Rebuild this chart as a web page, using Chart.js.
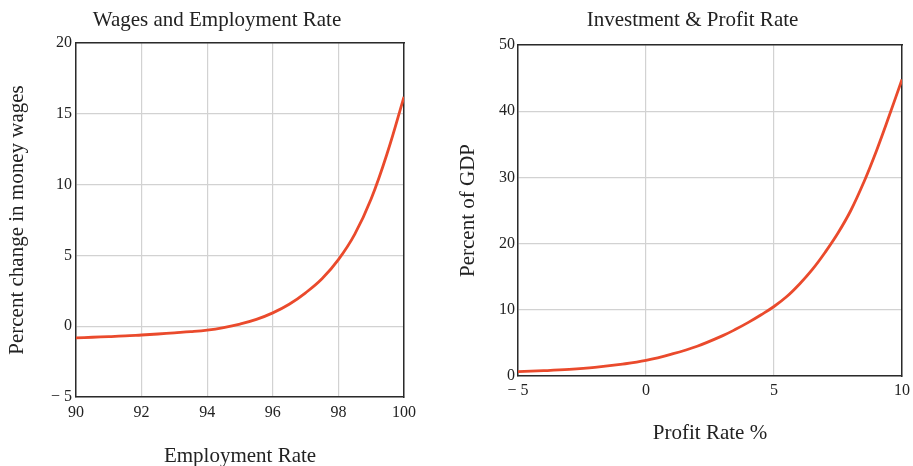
<!DOCTYPE html>
<html>
<head>
<meta charset="utf-8">
<script src="https://cdn.jsdelivr.net/npm/chart.js@4/dist/chart.umd.min.js"></script>
<style>
  html, body { margin: 0; padding: 0; background: #fff; overflow: hidden; }
  body { width: 913px; height: 466px; position: relative; }
  .box { position: absolute; top: 0; height: 466px; }
  #left { left: 0; width: 434px; }
  #right { left: 440px; width: 505px; }
</style>
</head>
<body>
<div class="box" id="left"><canvas id="wages"></canvas></div>
<div class="box" id="right"><canvas id="invest"></canvas></div>
<script>
// Données
const employment = [90, 90.5, 91, 91.5, 92, 92.5, 93, 93.5, 94, 94.5, 95, 95.5, 96, 96.5, 97, 97.5, 98, 98.5, 99, 99.5, 100];
const wageChange = [-0.82, -0.78, -0.74, -0.69, -0.62, -0.55, -0.47, -0.39, -0.28, -0.1, 0.15, 0.48, 0.94, 1.55, 2.36, 3.35, 4.7, 6.5, 9.0, 12.3, 16.2];

const profitRate = [-5, -4, -3, -2, -1, 0, 1, 2, 3, 3.5, 4, 4.5, 5, 5.5, 6, 6.5, 7, 7.5, 8, 8.5, 9, 9.5, 10];
const investment = [0.65, 0.8, 1.0, 1.3, 1.75, 2.35, 3.3, 4.5, 6.1, 7.05, 8.1, 9.25, 10.5, 12.0, 13.9, 16.1, 18.7, 21.6, 25.0, 29.2, 34.0, 39.3, 44.8];

const wagesXTicks = [90, 92, 94, 96, 98, 100];
const wagesYTicks = [-5, 0, 5, 10, 15, 20];
const investXTicks = [-5, 0, 5, 10];
const investYTicks = [0, 10, 20, 30, 40, 50];

const LINE = "#ea4a2c";
const GRID = "#d2d2d2";
const FRAME = "#2a2a2a";
const TEXT = "#222";
const SERIF = "'Liberation Serif', 'Times New Roman', serif";

Chart.defaults.font.family = SERIF;
Chart.defaults.color = TEXT;

function fmt(v) {
  return v < 0 ? "\u2212 " + Math.abs(v) : String(v);
}

function points(xs, ys) {
  return xs.map((x, i) => ({ x, y: ys[i] }));
}

// axe fantôme pour fermer le cadre (haut / droite)
function frameAxis(position, size) {
  const horiz = position === "top";
  return {
    type: "linear",
    position,
    min: 0,
    max: 1,
    ticks: { display: false },
    grid: { display: false, drawTicks: false },
    border: { display: true, color: FRAME, width: 1.5 },
    afterFit(s) { if (horiz) s.height = size; else s.width = size; }
  };
}

function makeChart(ctx, cfg) {
  return new Chart(ctx, {
    type: "line",
    data: {
      datasets: [{
        data: points(cfg.xs, cfg.ys),
        borderColor: LINE,
        borderWidth: 2.8,
        pointRadius: 0,
        fill: false,
        tension: 0.4
      }]
    },
    options: {
      responsive: true,
      maintainAspectRatio: false,
      animation: false,
      layout: { padding: 0 },
      plugins: {
        legend: { display: false },
        tooltip: { enabled: false },
        title: {
          display: true,
          text: cfg.title,
          color: TEXT,
          font: { size: 21, weight: "normal", family: SERIF },
          padding: { top: cfg.titleTop, bottom: cfg.titleBottom }
        }
      },
      scales: {
        x: {
          type: "linear",
          position: "bottom",
          min: cfg.xTicks[0],
          max: cfg.xTicks[cfg.xTicks.length - 1],
          afterBuildTicks(s) { s.ticks = cfg.xTicks.map((v) => ({ value: v })); },
          afterFit(s) { s.height = cfg.xHeight; },
          ticks: { callback: fmt, padding: cfg.xPad, font: { size: 16 }, color: TEXT, maxRotation: 0 },
          grid: { color: GRID, lineWidth: 1.2, drawTicks: false },
          border: { display: true, color: FRAME, width: 1.5 },
          title: {
            display: true,
            text: cfg.xTitle,
            color: TEXT,
            font: { size: 21, family: SERIF, lineHeight: 1 },
            padding: { top: 0, bottom: cfg.xTitlePad }
          }
        },
        y: {
          type: "linear",
          position: "left",
          min: cfg.yTicks[0],
          max: cfg.yTicks[cfg.yTicks.length - 1],
          afterBuildTicks(s) { s.ticks = cfg.yTicks.map((v) => ({ value: v })); },
          afterFit(s) { s.width = cfg.yWidth; },
          ticks: { callback: fmt, padding: cfg.yPad, font: { size: 16 }, color: TEXT },
          grid: { color: GRID, lineWidth: 1.2, drawTicks: false },
          border: { display: true, color: FRAME, width: 1.5 },
          title: {
            display: true,
            text: cfg.yTitle,
            color: TEXT,
            font: { size: 21, family: SERIF, lineHeight: 1 },
            padding: { top: cfg.yTitlePad, bottom: 0 }
          }
        },
        x2: frameAxis("top", 0),
        y2: frameAxis("right", cfg.rightGap)
      }
    }
  });
}

makeChart(document.getElementById("wages"), {
  title: "Wages and Employment Rate",
  xs: employment, ys: wageChange,
  xTicks: wagesXTicks, yTicks: wagesYTicks,
  xTitle: "Employment Rate", yTitle: "Percent change in money wages",
  titleTop: 8, titleBottom: 9.8,
  xHeight: 69, xPad: 6, xTitlePad: -1,
  yWidth: 76, yPad: 4, yTitlePad: 7,
  rightGap: 30
});

makeChart(document.getElementById("invest"), {
  title: "Investment & Profit Rate",
  xs: profitRate, ys: investment,
  xTicks: investXTicks, yTicks: investYTicks,
  xTitle: "Profit Rate %", yTitle: "Percent of GDP",
  titleTop: 8, titleBottom: 11.8,
  xHeight: 90, xPad: 5, xTitlePad: 22.5,
  yWidth: 78, yPad: 3, yTitlePad: 18,
  rightGap: 43
});
</script>
</body>
</html>
